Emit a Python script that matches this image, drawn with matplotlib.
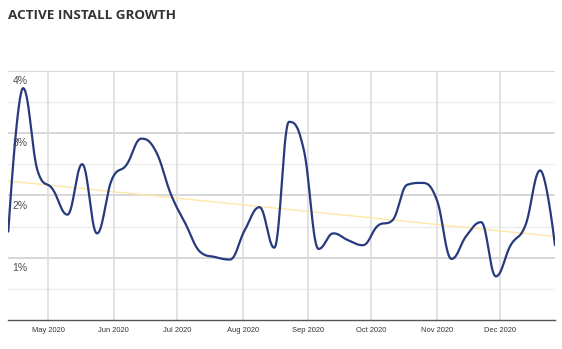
import numpy as np
import pandas as pd
import matplotlib
matplotlib.use("Agg")
import matplotlib.pyplot as plt
import matplotlib.dates as mdates

# weekly active-install growth, percent
weeks = pd.date_range("2020-04-12", periods=38, freq="7D")
growth = [1.42, 3.72, 2.38, 2.10, 1.69, 2.50, 1.39, 2.25, 2.49, 2.91,
          2.70, 2.02, 1.54, 1.09, 1.01, 0.97, 1.44, 1.81, 1.16, 3.18,
          2.73, 1.14, 1.39, 1.28, 1.20, 1.51, 1.60, 2.17, 2.20, 1.93,
          0.98, 1.35, 1.57, 0.70, 1.20, 1.52, 2.40, 1.20]
trend_ends = [2.23, 1.34]

month_ticks = pd.date_range("2020-05-01", "2020-12-01", freq="MS")
month_labels = [d.strftime("%b %Y") for d in month_ticks]


def spline(x, y, smoothing=1.5, n=30):
    # bezier smoothing between points, control points like a highcharts spline
    x = np.asarray(x, float)
    y = np.asarray(y, float)
    m = len(x)
    lcx, lcy = x.copy(), y.copy()
    rcx, rcy = x.copy(), y.copy()
    d = smoothing + 1
    for i in range(1, m - 1):
        lx = (smoothing * x[i] + x[i - 1]) / d
        ly = (smoothing * y[i] + y[i - 1]) / d
        rx = (smoothing * x[i] + x[i + 1]) / d
        ry = (smoothing * y[i] + y[i + 1]) / d
        corr = (ry - ly) * (rx - x[i]) / (rx - lx) + y[i] - ry
        ly += corr
        ry += corr
        if ly > max(y[i - 1], y[i]):
            ly = max(y[i - 1], y[i]); ry = 2 * y[i] - ly
        elif ly < min(y[i - 1], y[i]):
            ly = min(y[i - 1], y[i]); ry = 2 * y[i] - ly
        if ry > max(y[i + 1], y[i]):
            ry = max(y[i + 1], y[i]); ly = 2 * y[i] - ry
        elif ry < min(y[i + 1], y[i]):
            ry = min(y[i + 1], y[i]); ly = 2 * y[i] - ry
        lcx[i], lcy[i], rcx[i], rcy[i] = lx, ly, rx, ry
    t = np.linspace(0, 1, n)[:, None]
    xs, ys = [], []
    for i in range(m - 1):
        px = np.array([x[i], rcx[i], lcx[i + 1], x[i + 1]])
        py = np.array([y[i], rcy[i], lcy[i + 1], y[i + 1]])
        b = np.hstack([(1 - t) ** 3, 3 * (1 - t) ** 2 * t, 3 * (1 - t) * t ** 2, t ** 3])
        xs.append(b @ px)
        ys.append(b @ py)
    return np.concatenate(xs), np.concatenate(ys)


xnum = mdates.date2num(weeks)
sx, sy = spline(xnum, growth)

fig = plt.figure(figsize=(5.62, 3.49), dpi=100)
ax = fig.add_axes([0.0148, 0.0831, 0.9727, 0.7143])

# grid
for v in np.arange(0.5, 4.01, 0.5):
    major = float(v).is_integer()
    ax.axhline(v, color="#d4d4d4" if major else "#ececec", lw=1.3 if major else 1.0, zorder=0)
for d in month_ticks:
    ax.axvline(mdates.date2num(d), color="#dadada", lw=1.1, zorder=0)

ax.plot([xnum[0], xnum[-1]], trend_ends, color="#ffe7a6", lw=1.0, zorder=2)
ax.plot(sx, sy, color="#283a7e", lw=1.6, solid_capstyle="round", zorder=3)

ax.set_xlim(xnum[0], xnum[-1])
ax.set_ylim(0, 4)
for s in ["top", "left", "right"]:
    ax.spines[s].set_visible(False)
ax.spines["bottom"].set_color("#555555")
ax.spines["bottom"].set_linewidth(1.0)

ax.set_yticks([])
ax.set_xticks(mdates.date2num(month_ticks))
ax.set_xticklabels(month_labels, fontsize=5.4, color="#333333", family="Liberation Sans")
ax.tick_params(axis="x", length=0, pad=5)

for v in [1, 2, 3, 4]:
    ax.annotate(f"{v}%", xy=(0, v), xycoords=("axes fraction", "data"),
                xytext=(3, -3.8), textcoords="offset points", va="top", ha="left",
                fontsize=7.5, color="#4d4d4d", family="Liberation Sans", zorder=4)

fig.text(0.0142, 0.955, "ACTIVE INSTALL GROWTH", fontsize=9.7, fontweight="bold",
         color="#333333", family="Open Sans", va="center", ha="left")

fig.savefig("out.png", dpi=100)
